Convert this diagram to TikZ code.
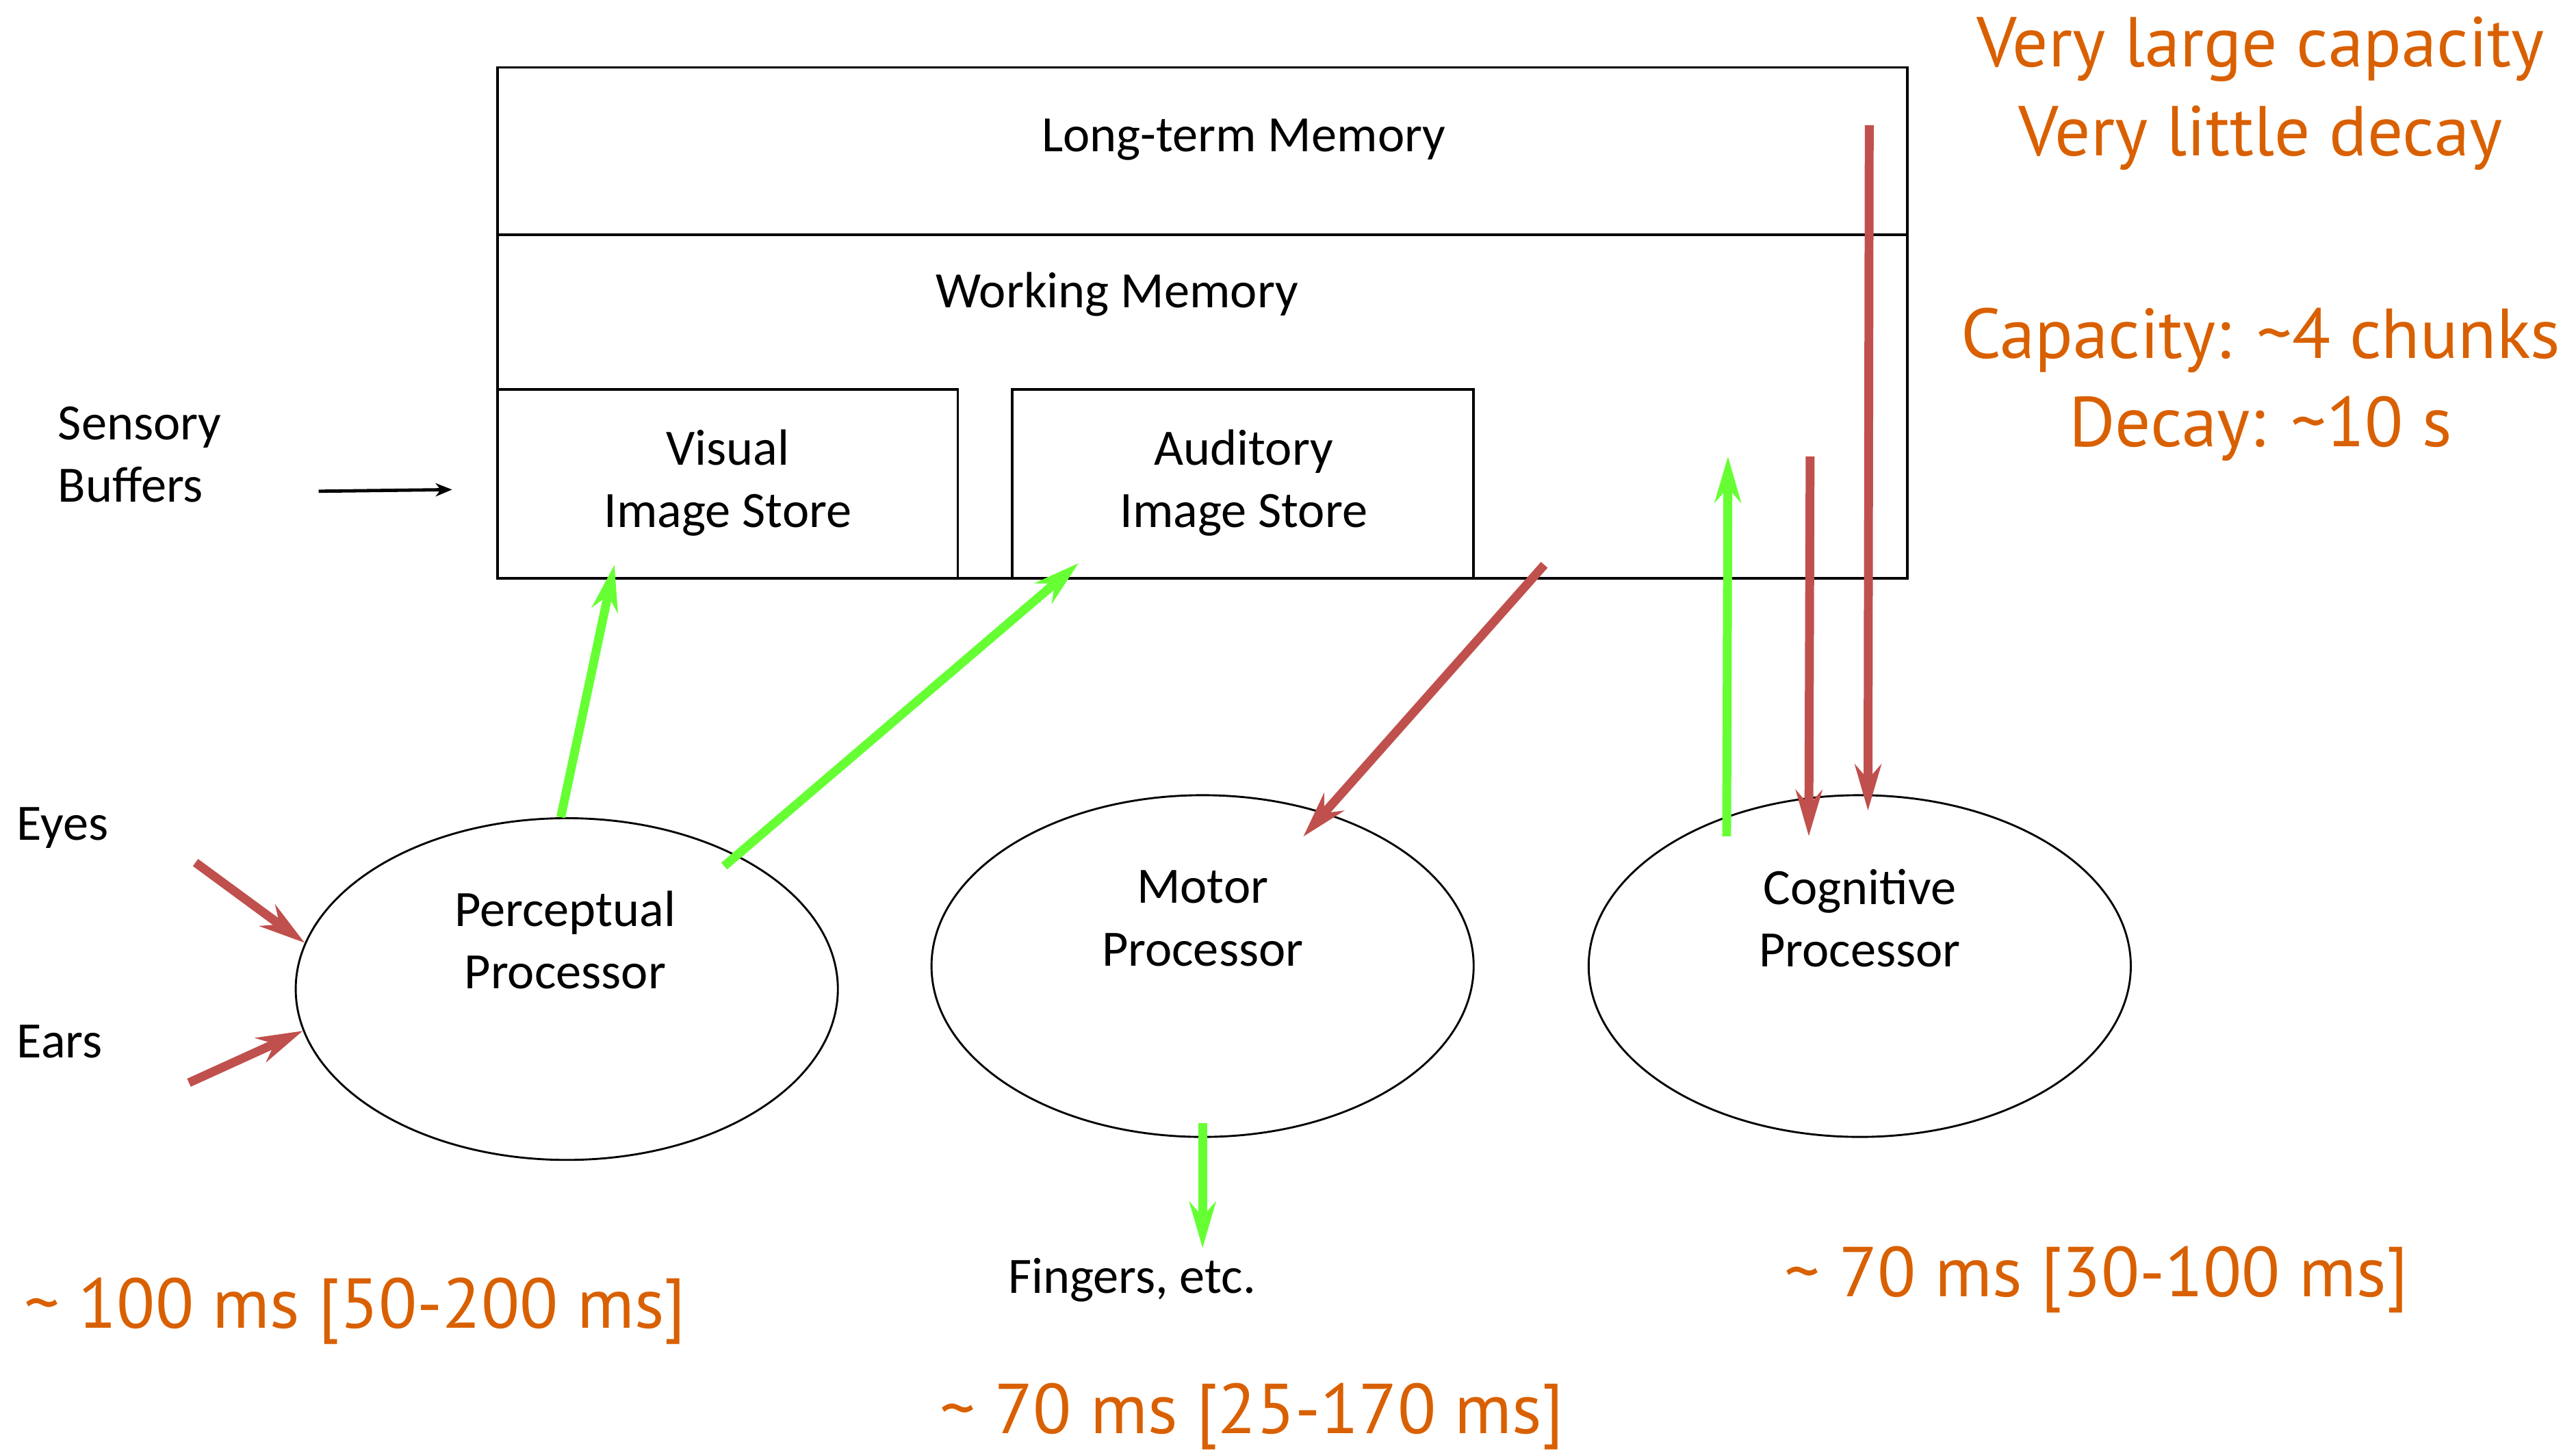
\documentclass[tikz,border=0pt]{standalone}
\usepackage{fontspec}
\setmainfont{Carlito}
\newfontfamily\notefont{PT Sans}
\usetikzlibrary{arrows.meta,calc,shapes.geometric}

\definecolor{noteorange}{RGB}{217,96,0}
\definecolor{flowred}{RGB}{192,80,77}
\definecolor{flowgreen}{RGB}{102,255,51}

\begin{document}
\begin{tikzpicture}
  [x=0.5pt, y=-0.5pt,
   store/.style = {draw, line width=0.8pt, inner sep=0pt},
   proc/.style = {draw, ellipse, line width=0.6pt, inner sep=0pt,
                  minimum width=165pt, minimum height=104pt},
   txt/.style = {font=\fontsize{15.5}{19}\selectfont, align=center, inner sep=0pt},
   note/.style = {font=\notefont\fontsize{21.5}{27}\selectfont, text=noteorange,
                  align=center, inner sep=0pt},
   redflow/.style = {draw=flowred, line width=2.7pt,
                     -{Stealth[length=14pt, width=8pt, inset=4.5pt]}},
   greenflow/.style = {draw=flowgreen, line width=2.7pt,
                       -{Stealth[length=14pt, width=8pt, inset=4.5pt]}}]
  \useasboundingbox (0,0) rectangle (1568,884);

  % memories
  \node[store, minimum width=429pt, minimum height=51pt] (ltm) at (732,92) {};
  \node[store, minimum width=429pt, minimum height=104.5pt] (wm) at (732,247.5) {};
  \node[store, minimum width=140pt, minimum height=57.5pt] (vis) at (443,294.5) {};
  \node[store, minimum width=140.5pt, minimum height=57.5pt] (aud) at (756.5,294.5) {};
  \node[txt] (ltmtext) at (757,85) {Long-term Memory};
  \node[txt] (wmtext) at (680,179) {Working Memory};
  \node[txt] (vistext) at (443,294) {Visual\\Image Store};
  \node[txt] (audtext) at (757,294) {Auditory\\Image Store};
  \node[txt, anchor=west, align=left] (sensory) at (35,276.5) {Sensory\\Buffers};

  % processors
  \node[proc] (perc) at (345,602) {};
  \node[proc] (motor) at (732,588) {};
  \node[proc] (cog) at (1132,588) {};
  \node[txt] (perctext) at (344,572) {Perceptual\\Processor};
  \node[txt] (motortext) at (732,559) {Motor\\Processor};
  \node[txt] (cogtext) at (1132,559) {Cognitive\\Processor};

  \node[txt, anchor=west] (eyes) at (10,504) {Eyes};
  \node[txt, anchor=west] (ears) at (10,634) {Ears};
  \node[txt] (fingers) at (689,779) {Fingers, etc.};

  % timings and capacities
  \node[note] (ltmnote) at (1376,57) {Very large capacity\\Very little decay};
  \node[note] (wmnote) at (1376,234) {Capacity: \textasciitilde 4 chunks\\Decay: \textasciitilde 10 s};
  \node[note] (percnote) at (216,798) {\textasciitilde\ 100 ms [50-200 ms]};
  \node[note] (motornote) at (762,862) {\textasciitilde\ 70 ms [25-170 ms]};
  \node[note] (cognote) at (1276,779) {\textasciitilde\ 70 ms [30-100 ms]};

  % flows
  \coordinate (sensin) at (194,299);
  \coordinate (eyesin) at (119,525);
  \coordinate (earsin) at (115,659);
  \draw[line width=1pt, -{Stealth[length=5pt, width=4pt, inset=1.5pt]}]
    (sensin) -- ($(vis.west)+(-27,3.5)$);
  \draw[redflow] (eyesin) -- (perc.170);
  \draw[redflow] (earsin) -- (perc.189);
  \draw[greenflow] (perc.92) -- ($(vis.south)+(-69,-9)$);
  \draw[greenflow] ($(perc.center)!0.92!(perc.38)$) -- ($(aud.south)+(-100,-10)$);
  \draw[redflow] ($(wm.south)+(208,-9)$) -- ($(motor.52)+(-12,15)$);
  \draw[greenflow] ($(cog.center)+(-81,-79)$) -- ($(wm.south east)+(-110,-75)$);
  \draw[redflow] ($(wm.south east)+(-60,-75)$) -- ($(cog.center)+(-31,-79)$);
  \draw[redflow] ($(ltm.north east)+(-24,36)$) -- ($(cog.north)+(5,10)$);
  \draw[greenflow] ($(motor.south)+(0,-9)$) -- ($(motor.south)+(0,67)$);
\end{tikzpicture}
\end{document}
